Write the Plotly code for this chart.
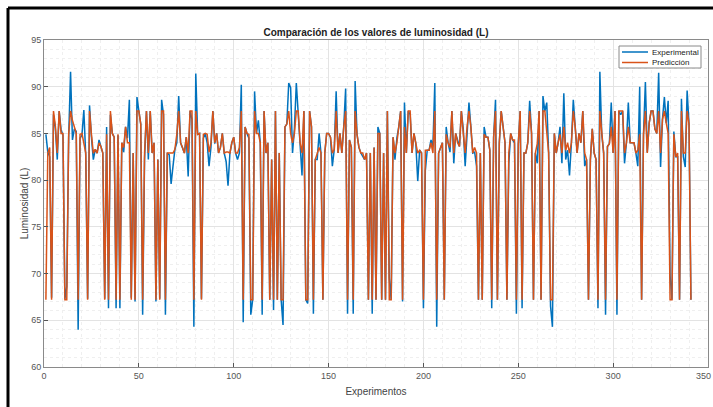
import plotly.graph_objects as go

# Predicted luminosity values (orange)
prediccion = [
    67.2, 82.9, 83.5, 67.2, 87.4, 85.8, 82.9, 87.4, 85.0, 85.0,
    67.2, 67.2, 84.9, 87.4, 86.4, 85.7, 85.0, 67.2, 84.9, 85.0,
    84.0, 82.9, 67.2, 87.4, 84.9, 82.9, 83.3, 82.9, 84.0, 83.6,
    82.9, 67.2, 84.9, 67.2, 87.4, 85.0, 84.6, 67.2, 84.9, 67.2,
    84.0, 83.5, 85.7, 84.0, 84.0, 67.2, 82.9, 67.2, 87.4, 87.4,
    86.0, 67.2, 82.9, 87.4, 82.9, 87.4, 82.9, 84.0, 67.2,
    82.2, 67.2, 87.4, 87.4, 67.2, 82.9, 82.9, 82.9, 82.9, 83.3,
    84.9, 87.4, 84.0, 83.5, 82.9, 84.6, 82.9, 87.4, 87.4, 67.2,
    87.4, 84.9, 85.0, 67.2, 84.9, 85.0, 84.9, 83.0, 84.0, 87.4,
    84.0, 85.0, 82.9, 83.5, 85.0, 82.9, 83.0, 83.0, 82.9, 84.0,
    84.6, 82.9, 82.9, 83.5, 87.4, 67.2, 85.7, 85.0, 84.9, 67.2,
    67.2, 87.4, 85.0, 85.0, 84.0, 67.2, 87.4, 82.9, 84.0, 67.2,
    82.2, 67.2, 87.4, 67.2, 82.9, 67.2, 67.2, 85.7, 86.0, 87.4,
    85.0, 84.0, 85.0, 87.4, 87.4, 84.0, 82.9, 87.4, 67.2, 67.2,
    87.4, 85.7, 67.2, 82.2, 82.9, 83.5, 82.9, 67.2, 82.9, 85.0,
    85.0, 84.6, 82.9, 83.3, 87.4, 82.9, 85.0, 82.9, 85.7, 87.4,
    67.2, 84.3, 83.5, 67.2, 87.4, 84.9, 83.5, 82.9, 82.9,
    82.2, 82.9, 67.2, 82.9, 67.2, 83.5, 67.2, 85.0, 85.0, 67.2,
    82.9, 67.2, 87.4, 67.2, 67.2, 84.6, 82.9, 84.0, 85.7, 87.4,
    67.2, 85.7, 82.9, 87.4, 87.4, 82.9, 85.0, 83.9, 82.9, 83.2,
    82.9, 67.2, 83.2, 83.2, 83.2, 84.0, 82.9, 87.4, 67.2, 82.9,
    83.5, 84.0, 67.2, 84.9, 84.0, 83.5, 87.4, 82.9, 85.0, 84.0,
    83.6, 87.4, 85.0, 82.9, 85.7, 87.4, 85.7, 82.9, 83.5, 82.9,
    67.2, 82.9, 67.2, 84.9, 84.6, 84.6, 83.2, 67.2, 84.6, 87.4,
    67.2, 84.0, 87.4, 85.7, 84.0, 67.2, 82.9, 85.0, 84.3, 84.3,
    67.2, 83.9, 87.4, 67.2, 82.9, 82.9, 84.0, 87.4, 85.0, 67.2,
    82.9, 83.9, 87.4, 67.2, 87.4, 87.4, 84.9, 82.9, 67.2, 67.2,
    85.0, 82.9, 84.0, 84.9, 82.9, 85.7, 83.2, 84.0, 82.9,
    84.0, 87.4, 85.7, 82.9, 85.0, 84.0, 87.4, 82.9, 82.2, 67.2,
    82.2, 85.5, 82.9, 82.2, 67.2, 87.4, 84.9, 82.9, 67.2, 83.6,
    83.9, 85.7, 82.9, 87.4, 67.2, 87.4, 87.4, 87.4, 82.9, 84.0,
    85.7, 84.0, 84.0, 84.0, 82.9, 83.2, 84.9, 67.2, 84.9, 87.4,
    82.9, 86.1, 87.4, 87.4, 85.5, 85.0, 87.4, 82.9, 86.5, 87.4,
    86.1, 85.0, 67.2, 67.2, 84.9, 82.5, 82.9, 67.2, 87.4, 82.9,
    82.9, 87.4, 86.0, 67.2,
]

# Experimental luminosity values (blue)
experimental = [
    84.9, 83.0, 82.5, 67.4, 87.0, 85.5, 82.2, 87.4, 85.4, 84.8,
    67.3, 68.6, 84.5, 91.6, 84.3, 85.5, 85.2, 64.0, 84.5, 84.8,
    87.5, 82.6, 67.3, 88.0, 84.6, 82.2, 83.3, 82.9, 84.3, 83.6,
    82.9, 67.3, 85.7, 66.3, 87.0, 85.0, 84.6, 66.3, 84.8, 66.3,
    84.0, 83.0, 85.7, 84.5, 88.6, 67.4, 82.9, 67.0, 88.9, 87.4,
    86.0, 65.6, 82.2, 87.4, 82.2, 87.4, 82.9, 84.0, 67.0,
    82.2, 67.3, 88.6, 87.0, 65.6, 82.9, 82.7, 79.6, 81.5, 83.3,
    84.0, 89.0, 84.0, 83.5, 82.9, 84.6, 80.4, 87.4, 86.5, 64.3,
    91.4, 84.9, 85.0, 67.3, 84.5, 85.0, 84.0, 81.5, 83.5, 87.4,
    83.9, 85.0, 82.9, 83.5, 85.0, 82.9, 82.0, 79.4, 82.9, 84.0,
    84.6, 82.9, 82.2, 82.9, 90.2, 64.8, 85.7, 85.0, 84.5, 65.6,
    67.2, 89.5, 85.0, 86.4, 84.0, 65.6, 87.4, 82.9, 84.0, 67.2,
    82.2, 66.1, 87.4, 67.2, 82.9, 67.2, 64.5, 85.7, 86.0, 90.4,
    89.9, 82.9, 85.5, 90.4, 87.4, 84.0, 80.5, 87.4, 67.2, 66.8,
    87.4, 85.7, 65.7, 82.2, 82.2, 85.0, 82.9, 67.2, 82.9, 85.0,
    85.0, 84.6, 81.5, 83.3, 89.5, 82.9, 85.0, 82.9, 85.7, 89.8,
    65.7, 84.3, 83.5, 65.7, 90.6, 84.9, 83.5, 82.9, 82.5,
    82.2, 82.9, 67.2, 82.9, 65.7, 83.5, 67.2, 85.7, 85.0, 67.2,
    82.9, 67.2, 87.4, 69.5, 67.2, 84.6, 82.2, 84.5, 85.7, 87.4,
    67.0, 88.3, 82.9, 87.4, 87.0, 82.9, 85.0, 83.9, 79.9, 83.2,
    82.9, 66.3, 81.0, 83.2, 83.2, 84.3, 83.6, 90.4, 64.3, 82.9,
    83.5, 84.0, 67.2, 85.7, 84.0, 83.0, 87.4, 81.8, 85.0, 84.3,
    83.6, 87.4, 85.5, 81.5, 85.7, 88.3, 85.7, 82.9, 83.0, 81.5,
    67.2, 82.9, 67.2, 85.7, 84.6, 84.6, 83.2, 66.3, 84.6, 88.6,
    67.2, 84.0, 87.4, 85.7, 84.0, 67.2, 81.8, 85.0, 84.3, 84.0,
    65.7, 83.9, 87.4, 66.3, 82.9, 82.9, 84.0, 88.5, 85.0, 67.2,
    82.9, 81.8, 87.4, 67.2, 89.0, 87.4, 88.3, 82.9, 66.5, 64.3,
    85.0, 82.9, 84.0, 85.7, 81.8, 89.3, 82.2, 83.2, 80.5,
    84.0, 88.6, 85.7, 82.9, 85.0, 84.0, 87.4, 81.5, 82.2, 67.2,
    82.2, 85.5, 82.9, 82.2, 66.3, 91.6, 84.9, 82.9, 65.6, 83.6,
    83.9, 88.3, 82.9, 87.4, 65.6, 87.4, 87.0, 87.4, 81.8, 84.0,
    88.3, 84.0, 84.0, 84.0, 82.9, 81.5, 90.0, 67.2, 84.9, 90.5,
    83.0, 86.1, 87.4, 87.4, 85.5, 85.0, 91.5, 81.4, 86.5, 88.9,
    86.1, 88.5, 69.8, 67.2, 85.2, 82.5, 82.5, 67.2, 88.7, 82.5,
    81.4, 89.6, 86.0, 67.2,
]

assert len(prediccion) == len(experimental)
experimentos = list(range(1, len(experimental) + 1))

x_ticks = [0, 50, 100, 150, 200, 250, 300, 350]
y_ticks = [60, 65, 70, 75, 80, 85, 90, 95]
series_names = ["Experimental", "Predicción"]
series_colors = ["#0072BD", "#D95319"]

FONT = "Liberation Sans, Arial, sans-serif"
TICK_FONT = dict(family=FONT, size=9, color="#555555")

# plot-area geometry in pixels (for the hand-drawn legend / frame)
W, H = 713, 407
ML, MR, MT, MB = 44, 5, 40, 40
PW, PH = W - ML - MR, H - MT - MB


def px(xp):
    return (xp - ML) / PW


def py(yp):
    return 1 - (yp - MT) / PH


fig = go.Figure()
for name, color, vals in zip(series_names, series_colors, [experimental, prediccion]):
    fig.add_trace(go.Scatter(x=experimentos, y=vals, mode="lines", name=name,
                             line=dict(color=color, width=1.5), showlegend=False))

axis_common = dict(
    showline=True, linecolor="#8a8a8a", linewidth=1, mirror=True,
    ticks="inside", ticklen=4, tickcolor="#555555",
    showgrid=True, gridcolor="#e3e3e3", gridwidth=1,
    zeroline=False,
    tickfont=TICK_FONT,
)

fig.update_layout(
    width=W, height=H,
    margin=dict(l=ML, r=MR, t=MT, b=MB),
    paper_bgcolor="white", plot_bgcolor="white",
    title=dict(text="<b>Comparación de los valores de luminosidad (L)</b>",
               font=dict(family=FONT, size=10, color="#222222"),
               x=0.5, xanchor="center", xref="paper",
               y=1 - 32 / H, yref="container", yanchor="middle"),
    xaxis=dict(range=[0, 350], tickvals=x_ticks,
               title=dict(text="Experimentos", standoff=8,
                          font=dict(family=FONT, size=10, color="#444444")),
               minor=dict(dtick=10, tick0=0, showgrid=True, gridcolor="#efefef",
                          griddash="dot", ticks=""),
               **axis_common),
    yaxis=dict(range=[60, 95], tickvals=y_ticks,
               title=dict(text="Luminosidad (L)", standoff=0,
                          font=dict(family=FONT, size=10, color="#444444")),
               minor=dict(dtick=1, tick0=0, showgrid=True, gridcolor="#efefef",
                          griddash="dot", ticks=""),
               **axis_common),
    showlegend=False,
)

# last x tick label, kept inside the picture's right edge
fig.add_annotation(x=px(W - 1), y=0, xref="paper", yref="paper", text=str(x_ticks[-1]),
                   showarrow=False, xanchor="right", yanchor="top", yshift=-3,
                   xshift=0, font=TICK_FONT, borderpad=0)

# legend box (drawn by hand to match the compact MATLAB legend)
fig.add_shape(type="rect", xref="paper", yref="paper",
              x0=px(619), x1=px(701), y0=py(68), y1=py(46),
              line=dict(color="#8a8a8a", width=1), fillcolor="white", layer="above")
for i, (name, color) in enumerate(zip(series_names, series_colors)):
    yy = py(52 + 10.5 * i)
    fig.add_shape(type="line", xref="paper", yref="paper",
                  x0=px(622), x1=px(648), y0=yy, y1=yy,
                  line=dict(color=color, width=1.5), layer="above")
    fig.add_annotation(x=px(650), y=yy, xref="paper", yref="paper",
                       text=name, showarrow=False, xanchor="left", yanchor="middle",
                       font=dict(family=FONT, size=8, color="#222222"))

# black frame of the original screenshot (left and top edges)
fig.add_shape(type="line", xref="paper", yref="paper",
              x0=px(8), x1=px(8), y0=py(H), y1=py(8),
              line=dict(color="black", width=3))
fig.add_shape(type="line", xref="paper", yref="paper",
              x0=px(8), x1=px(W), y0=py(8), y1=py(8),
              line=dict(color="black", width=3))

fig.write_html("out.html")
